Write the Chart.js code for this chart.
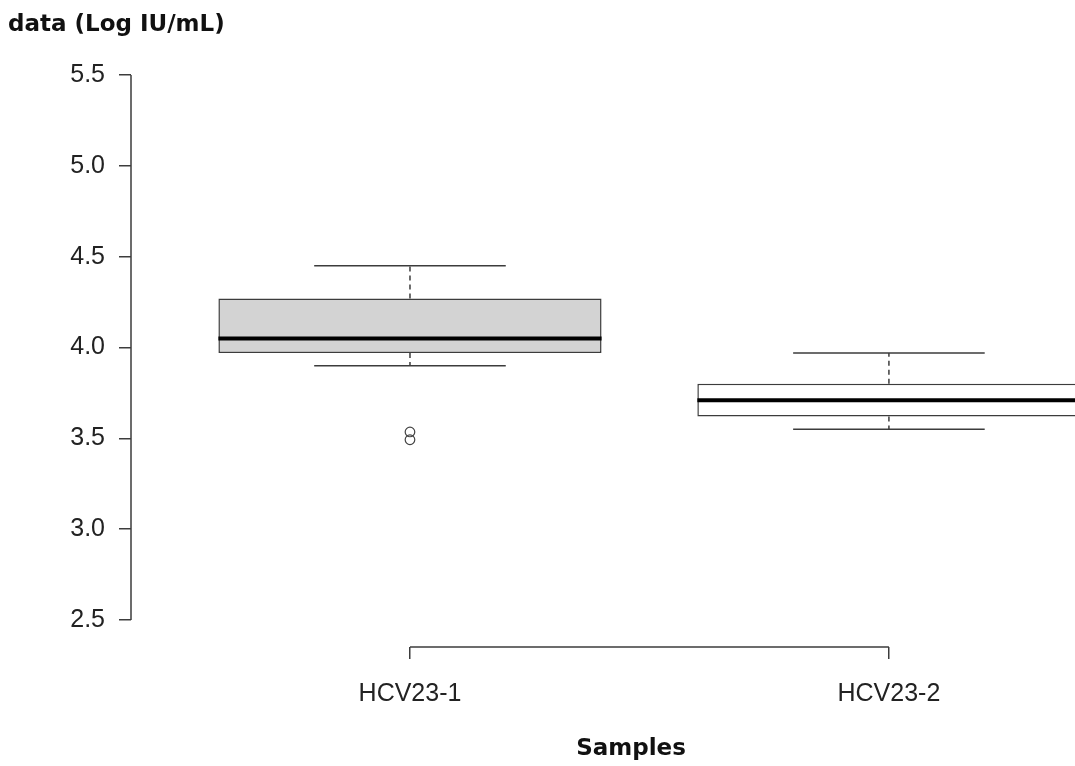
<!DOCTYPE html>
<html>
<head>
<meta charset="utf-8">
<script src="https://cdn.jsdelivr.net/npm/chart.js@4.4.1/dist/chart.umd.min.js"></script>
<style>
  html, body { margin: 0; padding: 0; background: #fff; overflow: hidden; }
  #wrap { width: 1075px; height: 766px; }
  canvas { display: block; }
</style>
</head>
<body>
<div id="wrap"><canvas id="boxChart" width="1075" height="766"></canvas></div>
<script>
// box plot values (Log IU/mL)
const samples = ['HCV23-1', 'HCV23-2'];
const whiskerLow = [3.90, 3.55];
const boxQ1 = [3.97, 3.62];
const boxMedian = [4.05, 3.71];
const boxQ3 = [4.27, 3.80];
const whiskerHigh = [4.45, 3.97];
const outliers = [[3.535, 3.492], []];
const yTicks = [2.5, 3.0, 3.5, 4.0, 4.5, 5.0, 5.5];

const boxFill = ['#d3d3d3', '#ffffff'];
const lineColor = '#3c3c3c';

// box i sits at x = i + 1 (R style)
const pos = samples.map((s, i) => i + 1);

function hSeg(values, half) {
    const pts = [];
    values.forEach((v, i) => {
        pts.push({ x: pos[i] - half, y: v }, { x: pos[i] + half, y: v }, { x: pos[i] + 0.5, y: null });
    });
    return pts;
}
function vSeg(from, to) {
    const pts = [];
    from.forEach((v, i) => {
        pts.push({ x: pos[i], y: v }, { x: pos[i], y: to[i] }, { x: pos[i] + 0.5, y: null });
    });
    return pts;
}
const outlierPts = [];
outliers.forEach((arr, i) => arr.forEach(v => outlierPts.push({ x: pos[i], y: v })));

// axis lines only span the ticks, plus the x title
const rAxes = {
    id: 'rAxes',
    afterDraw(chart) {
        const { ctx, chartArea, scales: { x, y } } = chart;
        ctx.save();
        ctx.strokeStyle = lineColor;
        ctx.lineWidth = 1.5;
        ctx.beginPath();
        ctx.moveTo(chartArea.left, y.getPixelForValue(yTicks[0]));
        ctx.lineTo(chartArea.left, y.getPixelForValue(yTicks[yTicks.length - 1]));
        ctx.moveTo(x.getPixelForValue(pos[0]), chartArea.bottom);
        ctx.lineTo(x.getPixelForValue(pos[pos.length - 1]), chartArea.bottom);
        ctx.stroke();
        ctx.font = 'bold 23px "DejaVu Sans"';
        ctx.fillStyle = '#111';
        ctx.textAlign = 'center';
        ctx.textBaseline = 'middle';
        ctx.fillText('Samples', 631, 749);
        ctx.restore();
    }
};

const ctx = document.getElementById('boxChart').getContext('2d');
new Chart(ctx, {
    type: 'bar',
    data: {
        datasets: [
            {
                type: 'line', label: 'median', data: hSeg(boxMedian, 0.4), clip: false,
                borderColor: '#000', borderWidth: 4, pointRadius: 0, spanGaps: false, order: 1
            },
            {
                type: 'line', label: 'outliers', data: outlierPts, showLine: false,
                pointStyle: 'circle', pointRadius: 4.8, pointBorderWidth: 1.2,
                pointBorderColor: '#444', pointBackgroundColor: 'rgba(0,0,0,0)', order: 1
            },
            {
                type: 'bar', label: 'box', clip: false,
                data: pos.map((p, i) => ({ x: p, y: [boxQ1[i], boxQ3[i]] })),
                backgroundColor: boxFill, borderColor: lineColor, borderWidth: 1.5,
                borderSkipped: false, categoryPercentage: 0.8, barPercentage: 1.0, order: 2
            },
            {
                type: 'line', label: 'caps', data: hSeg(whiskerHigh, 0.2).concat(hSeg(whiskerLow, 0.2)),
                borderColor: lineColor, borderWidth: 1.5, pointRadius: 0, spanGaps: false, order: 3
            },
            {
                type: 'line', label: 'stems', data: vSeg(boxQ3, whiskerHigh).concat(vSeg(boxQ1, whiskerLow)),
                borderColor: lineColor, borderWidth: 1.5, borderDash: [5, 4], pointRadius: 0, spanGaps: false, order: 3
            }
        ]
    },
    options: {
        responsive: false,
        animation: false,
        layout: { padding: { left: 8, right: 0, top: 0, bottom: 0 } },
        plugins: {
            legend: { display: false },
            tooltip: { enabled: false },
            title: {
                display: true, text: 'data (Log IU/mL)', align: 'start', color: '#111',
                font: { family: 'DejaVu Sans', size: 23, weight: 'bold', lineHeight: 1.2 },
                padding: { top: 11.2, bottom: 9.2 }
            }
        },
        scales: {
            x: {
                type: 'linear', min: 0.4175, max: 2.376, offset: false,
                afterBuildTicks: s => { s.ticks = pos.map(v => ({ value: v })); },
                afterFit: s => { s.height = 119; s.paddingLeft = 0; s.paddingRight = 0; },
                grid: { offset: false, drawOnChartArea: false, drawTicks: true, tickLength: 12, color: lineColor, lineWidth: 1.5 },
                border: { display: false },
                ticks: {
                    padding: 20, color: '#222', maxRotation: 0,
                    font: { family: 'Liberation Sans', size: 25 },
                    callback: v => samples[pos.indexOf(v)]
                }
            },
            y: {
                type: 'linear', min: 2.351, max: 5.649,
                afterBuildTicks: s => { s.ticks = yTicks.map(v => ({ value: v })); },
                afterFit: s => { s.width = 123; },
                grid: { drawOnChartArea: false, drawTicks: true, tickLength: 12, color: lineColor, lineWidth: 1.5 },
                border: { display: false },
                ticks: {
                    padding: 14, color: '#222',
                    font: { family: 'Liberation Sans', size: 25 },
                    callback: v => v.toFixed(1)
                }
            }
        }
    },
    plugins: [rAxes]
});
</script>
</body>
</html>
